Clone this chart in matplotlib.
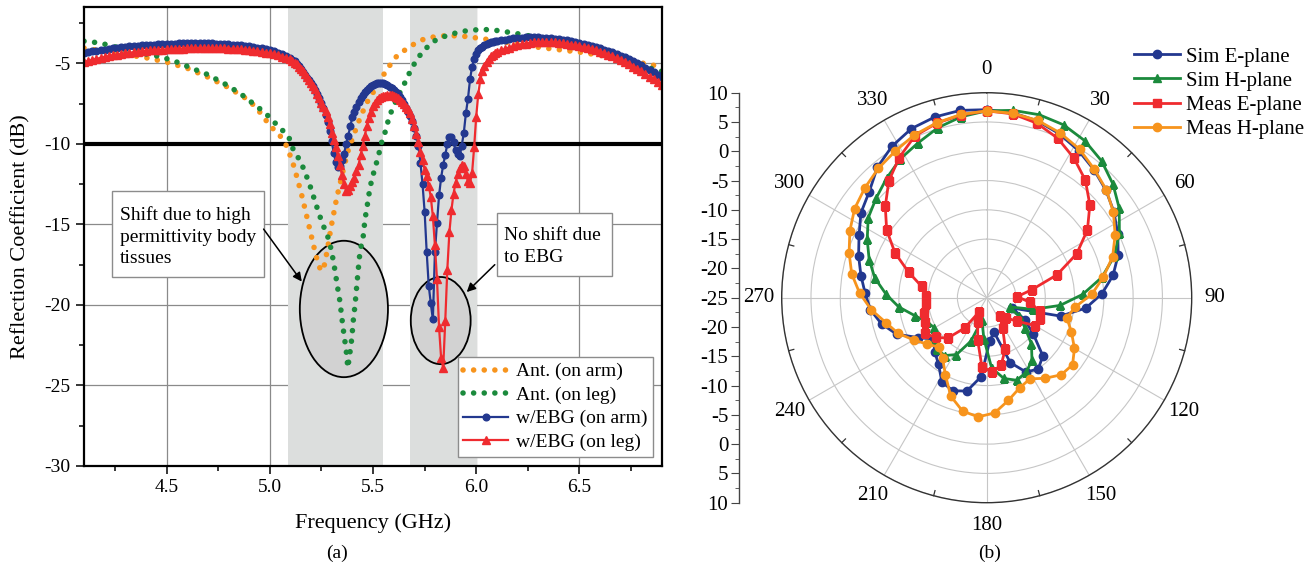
import numpy as np
import matplotlib
matplotlib.use("Agg")
import matplotlib.pyplot as plt
from matplotlib.patches import Ellipse, Rectangle
from matplotlib.ticker import MultipleLocator, FuncFormatter

plt.rcParams['font.family'] = ['Liberation Serif', 'DejaVu Serif']
plt.rcParams['axes.unicode_minus'] = False

# ---------------- (a) reflection coefficient data ----------------
ant_arm_f = [4.10, 4.20, 4.30, 4.40, 4.50, 4.60, 4.70, 4.80, 4.90, 4.95,
             5.00, 5.05, 5.08, 5.11, 5.13, 5.155, 5.17, 5.19, 5.21, 5.235,
             5.25, 5.265, 5.28, 5.295, 5.31, 5.325, 5.34, 5.36, 5.38, 5.405,
             5.44, 5.47, 5.52, 5.567, 5.615, 5.68, 5.744, 5.81, 5.88, 5.95,
             6.03, 6.10, 6.20, 6.30, 6.40, 6.50, 6.60, 6.70, 6.78, 6.85, 6.90]
ant_arm_db = [-4.05, -4.25, -4.45, -4.65, -4.92, -5.30, -5.85, -6.50, -7.30, -8.00,
              -8.85, -9.50, -10.10, -11.10, -12.00, -13.20, -14.00, -15.10, -16.20, -17.50,
              -17.90, -17.50, -16.50, -15.30, -14.30, -13.30, -12.50, -11.40, -10.40, -9.50,
              -8.30, -7.44, -6.40, -5.37, -4.55, -3.93, -3.51, -3.31, -3.28, -3.33,
              -3.47, -3.60, -3.80, -4.00, -4.15, -4.30, -4.50, -4.72, -4.92, -5.10, -5.20]

ant_leg_f = [4.10, 4.145, 4.19, 4.24, 4.32, 4.40, 4.47, 4.55, 4.645, 4.70,
             4.75, 4.80, 4.87, 4.92, 4.96, 5.00, 5.04, 5.09, 5.115, 5.15,
             5.19, 5.21, 5.24, 5.26, 5.285, 5.30, 5.315, 5.327, 5.34, 5.35,
             5.36, 5.37, 5.378, 5.389, 5.397, 5.405, 5.413, 5.42, 5.43, 5.437,
             5.453, 5.461, 5.47, 5.482, 5.494, 5.51, 5.526, 5.542, 5.558, 5.579,
             5.60, 5.623, 5.647, 5.68, 5.712, 5.744, 5.776, 5.81, 5.873, 5.94,
             6.02, 6.08, 6.175, 6.26, 6.35, 6.43, 6.50, 6.60, 6.70, 6.80, 6.90]
ant_leg_db = [-3.62, -3.68, -3.78, -3.93, -4.24, -4.42, -4.58, -4.92, -5.42, -5.70,
              -6.05, -6.40, -7.00, -7.50, -7.90, -8.35, -8.90, -9.50, -10.40, -11.10,
              -12.40, -13.20, -14.40, -15.10, -15.90, -16.70, -17.80, -18.80, -19.80, -20.90,
              -21.90, -22.80, -23.90, -22.90, -22.10, -20.90, -20.00, -19.00, -17.60, -16.70,
              -15.70, -14.70, -14.00, -13.00, -12.20, -11.50, -10.75, -9.90, -9.30, -8.30,
              -7.65, -7.00, -6.40, -5.50, -4.75, -4.24, -3.82, -3.50, -3.20, -3.00,
              -2.89, -2.92, -3.10, -3.30, -3.55, -3.85, -4.05, -4.40, -4.75, -5.15, -5.50]

# frequency sweep of the EBG simulations (coarse outside the band, fine inside)
ebg_f_lo = np.round(np.arange(4.10, 5.09, 0.02), 2)
ebg_f_mid = np.round(np.arange(5.10, 6.095, 0.01), 2)
ebg_f_hi = np.round(np.arange(6.10, 6.905, 0.02), 2)

ebg_arm_lo = [-4.35, -4.30, -4.26, -4.22, -4.18, -4.14, -4.10, -4.06, -4.03, -4.00,
              -3.97, -3.94, -3.92, -3.90, -3.88, -3.86, -3.84, -3.83, -3.81, -3.80,
              -3.79, -3.78, -3.77, -3.76, -3.76, -3.75, -3.75, -3.75, -3.75, -3.75,
              -3.76, -3.76, -3.77, -3.78, -3.79, -3.81, -3.83, -3.85, -3.88, -3.91,
              -3.94, -3.98, -4.02, -4.07, -4.12, -4.18, -4.25, -4.33, -4.42, -4.52]
ebg_arm_mid = [-4.65, -4.76, -4.88, -5.02, -5.18, -5.35, -5.52, -5.70, -5.88, -6.05,
               -6.22, -6.42, -6.64, -6.88, -7.15, -7.45, -7.80, -8.20, -8.65, -9.20,
               -9.85, -10.55, -11.15, -11.45, -11.35, -11.00, -10.60, -10.00, -9.50, -8.90,
               -8.35, -8.00, -7.70, -7.40, -7.15, -6.95, -6.80, -6.65, -6.52, -6.42,
               -6.35, -6.28, -6.24, -6.21, -6.20, -6.22, -6.27, -6.35, -6.45, -6.55,
               -6.65, -6.78, -6.92, -7.08, -7.27, -7.50, -7.75, -8.00, -8.27, -8.60,
               -9.00, -9.50, -10.10, -11.20, -12.50, -14.20, -16.70, -18.80, -19.90, -20.90,
               -16.70, -14.90, -13.20, -12.10, -11.30, -10.70, -10.00, -9.60, -9.55, -9.90,
               -10.40, -10.60, -10.75, -10.10, -9.30, -8.10, -7.20, -6.00, -5.20, -4.75,
               -4.40, -4.20, -4.07, -3.97, -3.88, -3.81, -3.75, -3.70, -3.66, -3.63]
ebg_arm_hi = [-3.62, -3.56, -3.52, -3.48, -3.45, -3.42, -3.40, -3.39, -3.38, -3.38,
              -3.39, -3.40, -3.42, -3.44, -3.47, -3.50, -3.54, -3.58, -3.62, -3.67,
              -3.72, -3.78, -3.84, -3.91, -3.98, -4.06, -4.14, -4.23, -4.32, -4.42,
              -4.52, -4.62, -4.74, -4.86, -4.99, -5.12, -5.26, -5.40, -5.55, -5.70,
              -5.85]

ebg_leg_lo = [-4.92, -4.85, -4.78, -4.72, -4.66, -4.60, -4.55, -4.50, -4.46, -4.42,
              -4.38, -4.34, -4.31, -4.28, -4.25, -4.23, -4.20, -4.18, -4.16, -4.14,
              -4.13, -4.11, -4.10, -4.09, -4.08, -4.07, -4.06, -4.06, -4.05, -4.05,
              -4.05, -4.05, -4.06, -4.06, -4.07, -4.08, -4.09, -4.11, -4.13, -4.15,
              -4.18, -4.21, -4.25, -4.29, -4.33, -4.38, -4.44, -4.50, -4.58, -4.66]
ebg_leg_mid = [-4.75, -4.85, -4.95, -5.07, -5.20, -5.35, -5.50, -5.68, -5.85, -6.02,
               -6.20, -6.40, -6.62, -6.88, -7.15, -7.44, -7.70, -7.98, -8.30, -8.75,
               -9.30, -9.75, -10.20, -10.75, -11.30, -11.95, -12.50, -12.90, -12.85, -12.60,
               -12.35, -12.10, -11.70, -11.30, -10.70, -10.10, -9.50, -8.90, -8.40, -8.00,
               -7.65, -7.45, -7.30, -7.18, -7.10, -7.05, -7.01, -6.99, -6.98, -6.99,
               -7.02, -7.08, -7.16, -7.25, -7.37, -7.52, -7.68, -7.86, -8.10, -8.45,
               -8.90, -9.40, -9.90, -10.50, -11.00, -11.60, -12.00, -12.60, -13.30, -14.50,
               -16.30, -18.40, -21.40, -23.30, -23.90, -21.00, -17.80, -15.50, -14.10, -13.10,
               -12.40, -11.90, -11.50, -11.30, -11.40, -11.90, -12.30, -12.40, -11.80, -10.20,
               -8.30, -6.90, -6.00, -5.50, -5.15, -4.90, -4.70, -4.55, -4.45, -4.37]
ebg_leg_hi = [-4.30, -4.20, -4.10, -4.02, -3.95, -3.88, -3.82, -3.77, -3.73, -3.70,
              -3.68, -3.67, -3.67, -3.68, -3.70, -3.72, -3.75, -3.79, -3.83, -3.88,
              -3.93, -3.99, -4.05, -4.12, -4.20, -4.28, -4.37, -4.46, -4.56, -4.67,
              -4.79, -4.92, -5.05, -5.20, -5.35, -5.50, -5.66, -5.82, -5.98, -6.15,
              -6.32]

bands_ghz = [(5.086, 5.548), (5.681, 6.002)]
ref_level_db = -10

# ---------------- (b) radiation pattern data ----------------
angle_deg = np.arange(0, 360, 8)
sim_e = [7.1, 6.9, 6.4, 5.6, 4.6, 3.5, 2.4, 1.2, -0.1, -1.4,
         -3.1, -5.3, -8.0, -12.0, -20.3, -17.5, -14.9, -11.2, -10.0, -10.6,
         -13.2, -19.0, -17.6, -11.5, -8.7, -8.1, -8.7, -11.0, -12.2, -13.5,
         -11.4, -8.4, -6.5, -5.05, -4.24, -3.2, -2.0, -0.75, 0.9, 2.0,
         4.05, 5.5, 6.6, 7.1, 7.3]
sim_h = [6.9, 7.3, 7.5, 7.3, 6.6, 5.5, 4.0, 2.3, 0.2, -2.1,
         -5.05, -8.6, -12.4, -16.8, -20.8, -18.6, -16.7, -14.0, -11.85, -10.6,
         -10.0, -10.9, -13.0, -18.0, -21.1, -17.1, -14.0, -12.8, -12.8, -13.8,
         -14.7, -14.0, -12.35, -9.9, -7.8, -5.6, -3.9, -2.3, -0.6, 0.4,
         1.6, 2.9, 3.9, 5.2, 6.2]
meas_e = [6.9, 6.7, 6.0, 4.8, 3.1, 1.2, -1.3, -4.25, -7.9, -12.4,
          -17.2, -19.8, -17.6, -15.7, -15.2, -15.5, -18.5, -20.2, -21.2, -19.2,
          -15.7, -13.2, -12.3, -13.2, -17.6, -20.5, -22.3, -18.6, -15.4, -14.0,
          -12.8, -13.7, -13.9, -14.5, -14.6, -13.7, -11.0, -7.6, -4.4, -1.7,
          1.0, 3.2, 5.2, 6.0, 6.5]
meas_h = [6.9, 6.8, 6.5, 5.8, 4.9, 3.6, 2.5, 1.1, -0.6, -2.4,
          -4.8, -7.0, -9.8, -10.9, -9.4, -7.7, -6.4, -6.7, -8.0, -9.3,
          -8.6, -7.1, -5.3, -4.6, -5.2, -7.1, -10.0, -12.2, -13.3, -12.1,
          -10.6, -8.7, -7.3, -5.2, -3.3, -1.6, -0.3, 1.0, 2.2, 3.0,
          3.8, 4.5, 5.4, 6.05, 6.6]
polar_r_min, polar_r_max = -25, 10

c_orange = '#f7941d'
c_green = '#1b8a3c'
c_navy = '#23388f'
c_red = '#ef2b2f'

fig = plt.figure(figsize=(13.09, 5.72), dpi=100)

# ======================= panel (a) =======================
ax = fig.add_axes([84 / 1309, 1 - 466 / 572, 578 / 1309, 459 / 572])
ax.set_xlim(4.1, 6.9)
ax.set_ylim(-30, -1.5)
ax.set_axisbelow(True)
ax.grid(True, which='major', color='#8a8a8a', lw=0.9)

for lo, hi in bands_ghz:
    ax.axvspan(lo, hi, color='#dcdedd', lw=0, zorder=0.6)

ax.add_patch(Ellipse((5.359, -20.25), 0.427, 8.47, fc='#d2d2d2', ec='black',
                     lw=1.3, zorder=1.0))
ax.add_patch(Ellipse((5.828, -20.97), 0.29, 5.41, fc='#d2d2d2', ec='black',
                     lw=1.3, zorder=1.0))

ax.axhline(ref_level_db, color='black', lw=3.0, zorder=1.8)

dot_style = dict(lw=4.0, linestyle=(0, (0.01, 1.9)), dash_capstyle='round')
ax.plot(ant_arm_f, ant_arm_db, color=c_orange, label='Ant. (on arm)', zorder=2.1, **dot_style)
ax.plot(ant_leg_f, ant_leg_db, color=c_green, label='Ant. (on leg)', zorder=2.2, **dot_style)

ebg_f = np.concatenate([ebg_f_lo, ebg_f_mid, ebg_f_hi])
ebg_arm = np.concatenate([ebg_arm_lo, ebg_arm_mid, ebg_arm_hi])
ebg_leg = np.concatenate([ebg_leg_lo, ebg_leg_mid, ebg_leg_hi])
ax.plot(ebg_f, ebg_arm, color=c_navy, lw=1.6, marker='o', ms=4.8,
        label='w/EBG (on arm)', zorder=2.3)
ax.plot(ebg_f, ebg_leg, color=c_red, lw=1.6, marker='^', ms=5.8,
        label='w/EBG (on leg)', zorder=2.4)

# annotation boxes and arrows
ax.add_patch(Rectangle((4.235, -18.29), 0.735, 5.38, fc='white', ec='#8c8c8c',
                       lw=1.0, zorder=5))
ax.text(4.272, -15.76, 'Shift due to high\npermittivity body\ntissues', fontsize=14,
        ha='left', va='center', linespacing=1.35, zorder=6)
ax.add_patch(Rectangle((6.101, -18.18), 0.557, 3.92, fc='white', ec='#8c8c8c',
                       lw=1.0, zorder=5))
ax.text(6.133, -16.38, 'No shift due\nto EBG', fontsize=14,
        ha='left', va='center', linespacing=1.35, zorder=6)
arrow = dict(arrowstyle='-|>', color='black', lw=1.1, mutation_scale=13,
             shrinkA=0, shrinkB=0)
ax.annotate('', xy=(5.155, -18.55), xytext=(4.97, -15.29), arrowprops=arrow, zorder=6)
ax.annotate('', xy=(5.954, -19.2), xytext=(6.09, -17.5), arrowprops=arrow, zorder=6)

ax.xaxis.set_major_locator(MultipleLocator(0.5))
ax.xaxis.set_minor_locator(MultipleLocator(0.25))
ax.xaxis.set_major_formatter(FuncFormatter(lambda v, p: f'{v:.1f}'))
ax.yaxis.set_major_locator(MultipleLocator(5))
ax.yaxis.set_minor_locator(MultipleLocator(2.5))
ax.tick_params(which='both', direction='out', labelsize=14, width=1.1)
ax.tick_params(which='major', length=6)
ax.tick_params(which='minor', length=3.5)
for s in ax.spines.values():
    s.set_linewidth(1.6)
ax.set_xlabel('Frequency (GHz)', fontsize=16, labelpad=12)
ax.set_ylabel('Reflection Coefficient (dB)', fontsize=16, labelpad=10)

leg = ax.legend(loc='lower right', bbox_to_anchor=(0.985, 0.02), borderaxespad=0,
                fontsize=14, numpoints=1, handlelength=2.3, handletextpad=0.4,
                labelspacing=0.3, fancybox=False, framealpha=1, edgecolor='#8c8c8c',
                borderpad=0.3)
leg.get_frame().set_linewidth(1.0)
leg.set_zorder(7)

fig.text(337 / 1309, 1 - 553 / 572, '(a)', fontsize=14, ha='center', va='center')

# ======================= panel (b) =======================
pax = fig.add_axes([781.7 / 1309, 1 - 502.7 / 572, 410 / 1309, 410 / 572],
                   projection='polar')
pax.set_theta_zero_location('N')
pax.set_theta_direction(-1)
pax.set_ylim(polar_r_min, polar_r_max)
pax.set_yticks(np.arange(-20, 11, 5))
pax.set_yticklabels([])
ang_ticks = np.arange(0, 360, 30)
pax.set_xticks(np.deg2rad(ang_ticks))
pax.set_xticklabels([str(a) for a in ang_ticks], fontsize=15)
pax.tick_params(axis='x', pad=6)
pax.grid(True, color='#c6c6c6', lw=0.8)
pax.spines['polar'].set_linewidth(1.0)
pax.spines['polar'].set_color('#333333')
for a in np.arange(15, 360, 30):
    t = np.deg2rad(a)
    pax.plot([t, t], [polar_r_max - 0.9, polar_r_max], color='#333333', lw=0.9,
             clip_on=False, zorder=3)

theta = np.deg2rad(np.append(angle_deg, angle_deg[0]))
series = [(sim_e, c_navy, 'o', 'Sim E-plane'),
          (sim_h, c_green, '^', 'Sim H-plane'),
          (meas_e, c_red, 's', 'Meas E-plane'),
          (meas_h, c_orange, 'o', 'Meas H-plane')]
handles = []
for vals, col, mk, lab in series:
    r = np.append(vals, vals[0])
    h, = pax.plot(theta, r, color=col, lw=2.0, marker=mk, ms=6, label=lab, zorder=4)
    handles.append(h)

fig.legend(handles=handles, loc='upper left', bbox_to_anchor=(1134 / 1309, 1 - 47 / 572),
           frameon=False, fontsize=15, numpoints=1, handlelength=2.2,
           handletextpad=0.3, labelspacing=0.22, borderaxespad=0, borderpad=0)

# linear dB scale beside the polar plot
sax = fig.add_axes([739.3 / 1309, 1 - 502.7 / 572, 0.0001, 410 / 572])
sax.set_ylim(-(polar_r_max - polar_r_min), polar_r_max - polar_r_min)
sax.set_xticks([])
for side in ('right', 'top', 'bottom'):
    sax.spines[side].set_visible(False)
sax.spines['left'].set_linewidth(1.0)
sax.spines['left'].set_color('#444444')
sax.yaxis.set_major_locator(MultipleLocator(5))
sax.yaxis.set_minor_locator(MultipleLocator(2.5))
sax.yaxis.set_major_formatter(FuncFormatter(lambda v, p: f'{abs(v) + polar_r_min:g}'))
sax.tick_params(axis='y', which='both', direction='out', labelsize=15, color='#444444')
sax.tick_params(axis='y', which='major', length=6, pad=2)
sax.tick_params(axis='y', which='minor', length=3)

fig.text(990 / 1309, 1 - 553 / 572, '(b)', fontsize=14, ha='center', va='center')

fig.savefig('out.png', dpi=100)
